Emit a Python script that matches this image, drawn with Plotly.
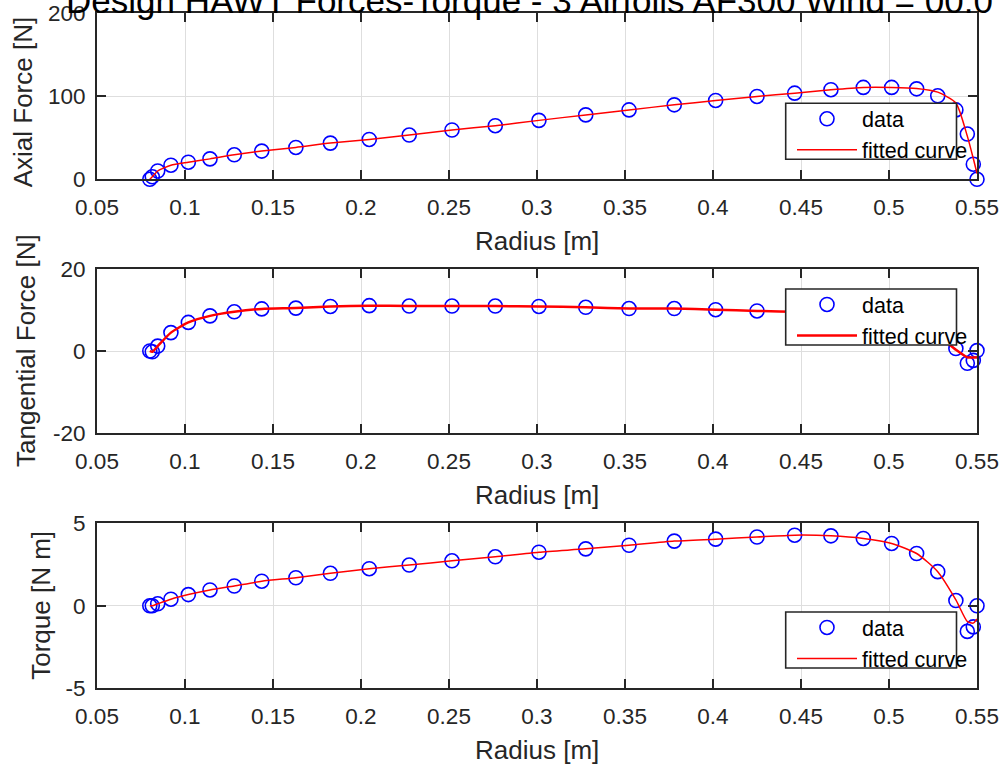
import plotly.graph_objects as go

# ---------------- data ----------------
radius = [0.0800, 0.0814, 0.0845, 0.0920, 0.1019, 0.1142, 0.1280, 0.1436, 0.1630, 0.1826,
          0.2047, 0.2274, 0.2517, 0.2763, 0.3011, 0.3277, 0.3523, 0.3780, 0.4015, 0.4250,
          0.4464, 0.4670, 0.4854, 0.5015, 0.5157, 0.5277, 0.5380, 0.5445, 0.5479, 0.5500]

axial_force = [0, 3, 10, 17, 20.6, 24.6, 29.5, 34, 38.4, 43.6,
               48, 53.3, 59.4, 64.6, 71, 77.6, 83.6, 89.7, 95, 99.8,
               103.8, 107.9, 110.7, 110.7, 109, 100.6, 83.6, 54.5, 18.2, 0]
axial_fit = [0, 3, 10, 17, 20.6, 24.6, 29.5, 34, 38.4, 43.6,
             48, 53.3, 59.4, 64.6, 71, 77.6, 83.6, 89.7, 95, 99.8,
             103.8, 107.9, 110.7, 110.7, 109.5, 105, 92, 52, 25, 7]

tangential_force = [0, -0.2, 1.2, 4.5, 7.0, 8.6, 9.6, 10.3, 10.5, 10.9,
                    11.1, 11.0, 11.0, 11.0, 10.9, 10.7, 10.4, 10.4, 10.1, 9.8,
                    9.6, 9.1, 8.4, 7.5, 6.1, 3.9, 0.6, -3.0, -2.3, 0.1]
tangential_fit = [0, -0.2, 1.2, 4.5, 7.0, 8.6, 9.6, 10.3, 10.5, 10.9,
                  11.1, 11.0, 11.0, 11.0, 10.9, 10.7, 10.4, 10.4, 10.1, 9.8,
                  9.6, 9.1, 8.4, 7.5, 6.1, 3.9, 0.3, -1.55, -1.6, -1.55]

torque = [0, 0, 0.12, 0.40, 0.68, 0.96, 1.20, 1.49, 1.70, 1.97,
          2.25, 2.47, 2.73, 2.97, 3.25, 3.45, 3.67, 3.92, 4.04, 4.17,
          4.28, 4.24, 4.08, 3.78, 3.17, 2.07, 0.32, -1.55, -1.28, 0]
torque_fit = [0, 0, 0.12, 0.40, 0.68, 0.96, 1.20, 1.49, 1.70, 1.97,
              2.25, 2.47, 2.73, 2.97, 3.25, 3.45, 3.67, 3.92, 4.04, 4.17,
              4.28, 4.24, 4.08, 3.78, 3.17, 2.07, 0.36, -0.95, -1.05, -0.8]

x_ticks = [0.05, 0.1, 0.15, 0.2, 0.25, 0.3, 0.35, 0.4, 0.45, 0.5, 0.55]
x_ticklabels = ["0.05", "0.1", "0.15", "0.2", "0.25", "0.3", "0.35", "0.4", "0.45", "0.5", "0.55"]
y1_ticks = [0, 100, 200]
y2_ticks = [-20, 0, 20]
y3_ticks = [-5, 0, 5]

title_text = "Design HAWT Forces-Torque - 3 Airfoils AF300 Wind = 00.0"
y_titles = ["Axial Force [N]", "Tangential Force [N]", "Torque [N m]"]
x_title = "Radius [m]"

# ---------------- figure ----------------
W, H = 1004, 769
FONT = "Liberation Sans, Arial, Helvetica, sans-serif"
AX = "#262626"
GRID = "#dedede"

def px_x(p):
    return p / W

def px_y(p):
    return 1 - p / H

fig = go.Figure()

panels = [
    (axial_force, axial_fit, y1_ticks, [0, 200], (13.3, 179.3), "legend", 1.5, 103.3),
    (tangential_force, tangential_fit, y2_ticks, [-20, 20], (269.3, 432.7), "legend2", 2.5, 289),
    (torque, torque_fit, y3_ticks, [-5, 5], (523.3, 688.3), "legend3", 1.5, 612),
]

x_dom = [px_x(97), px_x(977)]
layout = dict(
    width=W, height=H,
    margin=dict(l=0, r=0, t=0, b=0, autoexpand=False),
    paper_bgcolor="white", plot_bgcolor="white",
    font=dict(family=FONT, color=AX),
    showlegend=True,
)

shapes = []
annotations = []
for i, (yd, yf, yt, yr, (ytop, ybot), lg, lw, btop) in enumerate(panels):
    n = "" if i == 0 else str(i + 1)
    xa, ya = "x" + n, "y" + n
    fig.add_trace(go.Scatter(
        x=radius, y=yd, mode="markers", name="data", xaxis=xa, yaxis=ya, legend=lg,
        marker=dict(symbol="circle-open", size=14, color="#0000ff", line=dict(width=1.6, color="#0000ff")),
        cliponaxis=False,
    ))
    fig.add_trace(go.Scatter(
        x=radius, y=yf, mode="lines", name="fitted curve", xaxis=xa, yaxis=ya, legend=lg,
        line=dict(color="#ff0000", width=lw, shape="spline", smoothing=0.6),
    ))
    common = dict(showline=True, linecolor=AX, linewidth=2, mirror="ticks", ticks="inside",
                  ticklen=9, tickwidth=1.6, tickcolor=AX, showgrid=True, gridcolor=GRID,
                  gridwidth=1.3, zeroline=False, automargin=False,
                  tickfont=dict(size=22.5, color=AX, family=FONT))
    layout["xaxis" + n] = dict(domain=x_dom, range=[0.05, 0.55], anchor=ya,
                               tickvals=x_ticks, ticktext=x_ticklabels, ticklabelstandoff=7, **common)
    layout["yaxis" + n] = dict(domain=[px_y(ybot), px_y(ytop)], range=yr, anchor=xa,
                               tickvals=yt, ticktext=[str(v) for v in yt], ticklabelstandoff=5, **common)
    # legend box
    shapes.append(dict(type="rect", xref="paper", yref="paper",
                       x0=px_x(785.7), x1=px_x(956.5), y0=px_y(btop + 56), y1=px_y(btop),
                       line=dict(color=AX, width=1.6), fillcolor="white", layer="above"))
    layout[lg] = dict(x=px_x(792), y=px_y(btop - 5), xanchor="left", yanchor="top",
                      bgcolor="rgba(0,0,0,0)", borderwidth=0, itemwidth=60,
                      font=dict(size=21.5, color="black", family=FONT), tracegroupgap=0)
    # axis titles
    annotations.append(dict(text=x_title, xref="paper", yref="paper", showarrow=False,
                            x=px_x(537), y=px_y(ybot + 62), xanchor="center", yanchor="middle",
                            font=dict(size=26, color=AX, family=FONT)))
    annotations.append(dict(text=y_titles[i], xref="paper", yref="paper", showarrow=False,
                            x=px_x([23, 26, 41][i]), y=px_y((ytop + ybot) / 2 + (6 if i == 0 else 0)),
                            xanchor="center", yanchor="middle", textangle=-90,
                            font=dict(size=26, color=AX, family=FONT)))

annotations.append(dict(text=title_text, xref="paper", yref="paper", showarrow=False,
                        x=px_x(529), y=px_y(22), xanchor="center", yanchor="bottom",
                        font=dict(size=35, color="black", family=FONT)))

layout["shapes"] = shapes
layout["annotations"] = annotations
fig.update_layout(**layout)
fig.write_html("out.html")
